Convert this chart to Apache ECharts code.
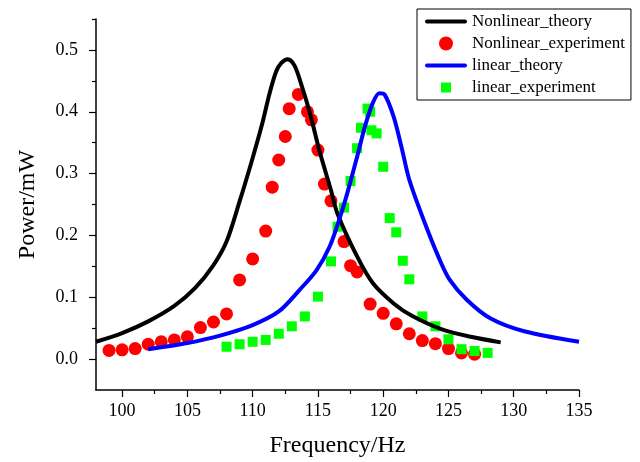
<!DOCTYPE html>
<html><head><meta charset="utf-8">
<script src="https://cdn.jsdelivr.net/npm/echarts@6/dist/echarts.min.js"></script>
<style>html,body{margin:0;padding:0;background:#fff}#c{width:640px;height:462px}</style>
</head><body><div id="c"></div>
<script>
// Nonlinear theory curve
const nlTheoryHz = [98, 100, 102, 104, 105.6, 107, 108, 109, 109.9, 110.7, 111.3, 111.8, 112.2, 112.7, 113.2, 113.7, 114.4, 115.1, 116, 116.5, 118, 119.2, 120.8, 122.2, 124.5, 126.7, 129];
const nlTheoryPower = [0.028, 0.042, 0.061, 0.086, 0.115, 0.152, 0.19, 0.255, 0.318, 0.378, 0.43, 0.465, 0.479, 0.485, 0.475, 0.446, 0.397, 0.338, 0.273, 0.235, 0.166, 0.123, 0.09, 0.07, 0.048, 0.036, 0.027];
// Nonlinear experiment
const nlExpHz = [99,100,101,102,103,104,105,106,107,108,109,110,111,111.5,112,112.5,112.8,113.5,114.2,114.5,115,115.5,116,117,117.5,118,119,120,121,122,123,124,125,126,127];
const nlExpPower = [0.014,0.015,0.017,0.024,0.028,0.031,0.036,0.051,0.060,0.073,0.128,0.162,0.207,0.278,0.322,0.36,0.405,0.428,0.40,0.387,0.338,0.283,0.256,0.19,0.151,0.141,0.089,0.074,0.057,0.041,0.030,0.025,0.017,0.010,0.008];
// Linear theory curve
const linTheoryHz = [102, 105, 107.5, 110, 112, 113.6, 114.9, 115.9, 116.7, 117.3, 118, 118.6, 119.2, 119.7, 120.1, 120.8, 121.4, 122, 123.1, 124.3, 125.1, 126.4, 128.2, 130.8, 135];
const linTheoryPower = [0.016, 0.026, 0.038, 0.055, 0.077, 0.112, 0.144, 0.182, 0.23, 0.272, 0.327, 0.376, 0.414, 0.43, 0.428, 0.392, 0.343, 0.29, 0.225, 0.162, 0.128, 0.096, 0.066, 0.045, 0.028];
// Linear experiment
const linExpHz = [108,109,110,111,112,113,114,115,116,116.5,117,117.5,118,118.3,118.8,119,119.1,119.5,120,120.5,121,121.5,122,123,124,125,126,127,128];
const linExpPower = [0.020,0.024,0.028,0.031,0.041,0.053,0.069,0.101,0.158,0.214,0.245,0.288,0.341,0.374,0.405,0.400,0.370,0.365,0.311,0.228,0.205,0.159,0.129,0.069,0.053,0.032,0.016,0.013,0.010];

const seriesNames = ['Nonlinear_theory', 'Nonlinear_experiment', 'linear_theory', 'linear_experiment'];
const xMajorTicks = [100, 105, 110, 115, 120, 125, 130, 135];
const xMinorTicks = [102.5, 107.5, 112.5, 117.5, 122.5, 127.5, 132.5];
const yMajorTicks = [0, 0.1, 0.2, 0.3, 0.4, 0.5];
const yMinorTicks = [0.05, 0.15, 0.25, 0.35, 0.45, 0.55];
const xRange = [98, 135];
const yRange = [-0.05, 0.55];

const zip = (a, b) => a.map((v, i) => [v, b[i]]);
const FONT = '"Liberation Serif", "Times New Roman", serif';
// legend icons (bounding boxes padded with moveTo points)
const LINE_ICON = 'path://M0,0M42,14M2,5L40,5A2,2,0,0,1,40,9L2,9A2,2,0,0,1,2,5Z';
const SQUARE_ICON = 'path://M0,0M14,14M2,2L12,2L12,12L2,12Z';

const chart = echarts.init(document.getElementById('c'), null, {renderer: 'canvas'});
const gridPos = {left: 96, right: 61, top: 19, bottom: 72, containLabel: false, outerBoundsMode: 'none'};
chart.setOption({
  animation: false,
  backgroundColor: '#fff',
  grid: [Object.assign({}, gridPos), Object.assign({}, gridPos)],
  legend: {
    orient: 'vertical',
    left: 417, top: 9,
    padding: [4, 6, 4, 8],
    itemWidth: 42, itemHeight: 14, itemGap: 5,
    borderColor: '#000', borderWidth: 1,
    symbolKeepAspect: true,
    data: [
      {name: seriesNames[0], icon: LINE_ICON},
      {name: seriesNames[1], icon: 'circle'},
      {name: seriesNames[2], icon: LINE_ICON},
      {name: seriesNames[3], icon: SQUARE_ICON}
    ],
    textStyle: {fontFamily: FONT, fontSize: 17, color: '#000'}
  },
  xAxis: [{
    type: 'value', gridIndex: 0, min: xRange[0], max: xRange[1],
    name: 'Frequency/Hz', nameLocation: 'middle', nameGap: 44,
    nameTextStyle: {fontFamily: FONT, fontSize: 24, color: '#000'},
    axisLine: {onZero: false, lineStyle: {color: '#000', width: 1.5}},
    axisTick: {length: 7, lineStyle: {color: '#000', width: 1.2}, customValues: xMajorTicks},
    axisLabel: {fontFamily: FONT, fontSize: 18, color: '#000', margin: 12, customValues: xMajorTicks},
    splitLine: {show: false}
  }, {
    type: 'value', gridIndex: 1, min: xRange[0], max: xRange[1],
    axisLine: {show: false, onZero: false},
    axisTick: {length: 4, lineStyle: {color: '#000', width: 1.2}, customValues: xMinorTicks},
    axisLabel: {show: false},
    splitLine: {show: false}
  }],
  yAxis: [{
    type: 'value', gridIndex: 0, min: yRange[0], max: yRange[1],
    name: 'Power/mW', nameLocation: 'middle', nameGap: 56,
    nameTextStyle: {fontFamily: FONT, fontSize: 24, color: '#000'},
    axisLine: {onZero: false, lineStyle: {color: '#000', width: 1.5}},
    axisTick: {length: 7, lineStyle: {color: '#000', width: 1.2}, customValues: yMajorTicks},
    axisLabel: {fontFamily: FONT, fontSize: 18, color: '#000', margin: 18, customValues: yMajorTicks,
      formatter: v => Number(v).toFixed(1)},
    splitLine: {show: false}
  }, {
    type: 'value', gridIndex: 1, min: yRange[0], max: yRange[1],
    axisLine: {show: false, onZero: false},
    axisTick: {length: 4, lineStyle: {color: '#000', width: 1.2}, customValues: yMinorTicks},
    axisLabel: {show: false},
    splitLine: {show: false}
  }],
  series: [{
    name: seriesNames[0], type: 'line', xAxisIndex: 0, yAxisIndex: 0,
    data: zip(nlTheoryHz, nlTheoryPower), smooth: 0.3, symbol: 'none',
    lineStyle: {color: '#000', width: 4}, itemStyle: {color: '#000'}
  }, {
    name: seriesNames[1], type: 'scatter', xAxisIndex: 0, yAxisIndex: 0,
    data: zip(nlExpHz, nlExpPower), symbol: 'circle', symbolSize: 13,
    itemStyle: {color: '#ff0000', opacity: 1}
  }, {
    name: seriesNames[2], type: 'line', xAxisIndex: 0, yAxisIndex: 0,
    data: zip(linTheoryHz, linTheoryPower), smooth: 0.3, symbol: 'none',
    lineStyle: {color: '#0000ff', width: 4}, itemStyle: {color: '#0000ff'}
  }, {
    name: seriesNames[3], type: 'scatter', xAxisIndex: 0, yAxisIndex: 0,
    data: zip(linExpHz, linExpPower), symbol: 'rect', symbolSize: 10,
    itemStyle: {color: '#00ff00', opacity: 1}
  }]
});
</script></body></html>
